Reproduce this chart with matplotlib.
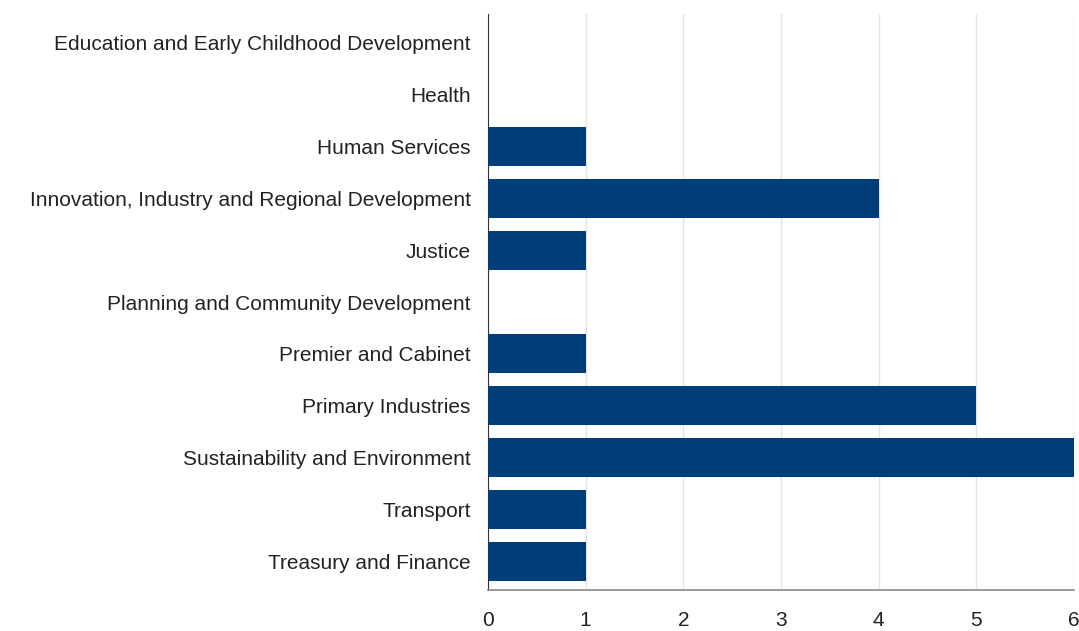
import matplotlib.pyplot as plt

categories = [
    "Education and Early Childhood Development",
    "Health",
    "Human Services",
    "Innovation, Industry and Regional Development",
    "Justice",
    "Planning and Community Development",
    "Premier and Cabinet",
    "Primary Industries",
    "Sustainability and Environment",
    "Transport",
    "Treasury and Finance",
]
values = [0, 0, 1, 4, 1, 0, 1, 5, 6, 1, 1]
x_ticks = [0, 1, 2, 3, 4, 5, 6]

plt.rcParams['font.family'] = ['Liberation Sans', 'DejaVu Sans']

fig = plt.figure(figsize=(10.79, 6.31), dpi=100)
ax = fig.add_axes([488 / 1079, 1 - 590 / 631, (1074 - 488) / 1079, (590 - 14) / 631])

pos = list(range(len(categories)))
ax.barh(pos, values, height=0.75, color="#003d79", zorder=3)
ax.set_yticks(pos)
ax.set_yticklabels(categories, fontsize=15, color="#222222")
ax.set_ylim(len(categories) - 0.5 + 0.05, -0.5 - 0.05)
ax.set_xlim(0, 6)
ax.set_xticks(x_ticks)
ax.set_xticklabels([str(t) for t in x_ticks], fontsize=15, color="#222222")

ax.grid(axis="x", color="#e4e4e4", linewidth=1, zorder=0)
ax.tick_params(axis="both", length=0)
ax.tick_params(axis="x", pad=15)
ax.tick_params(axis="y", pad=12.5)

for s in ["top", "right"]:
    ax.spines[s].set_visible(False)
ax.spines["left"].set_color("#333333")
ax.spines["bottom"].set_color("#888888")
ax.spines["bottom"].set_linewidth(1.2)

fig.savefig("out.png", dpi=100)
